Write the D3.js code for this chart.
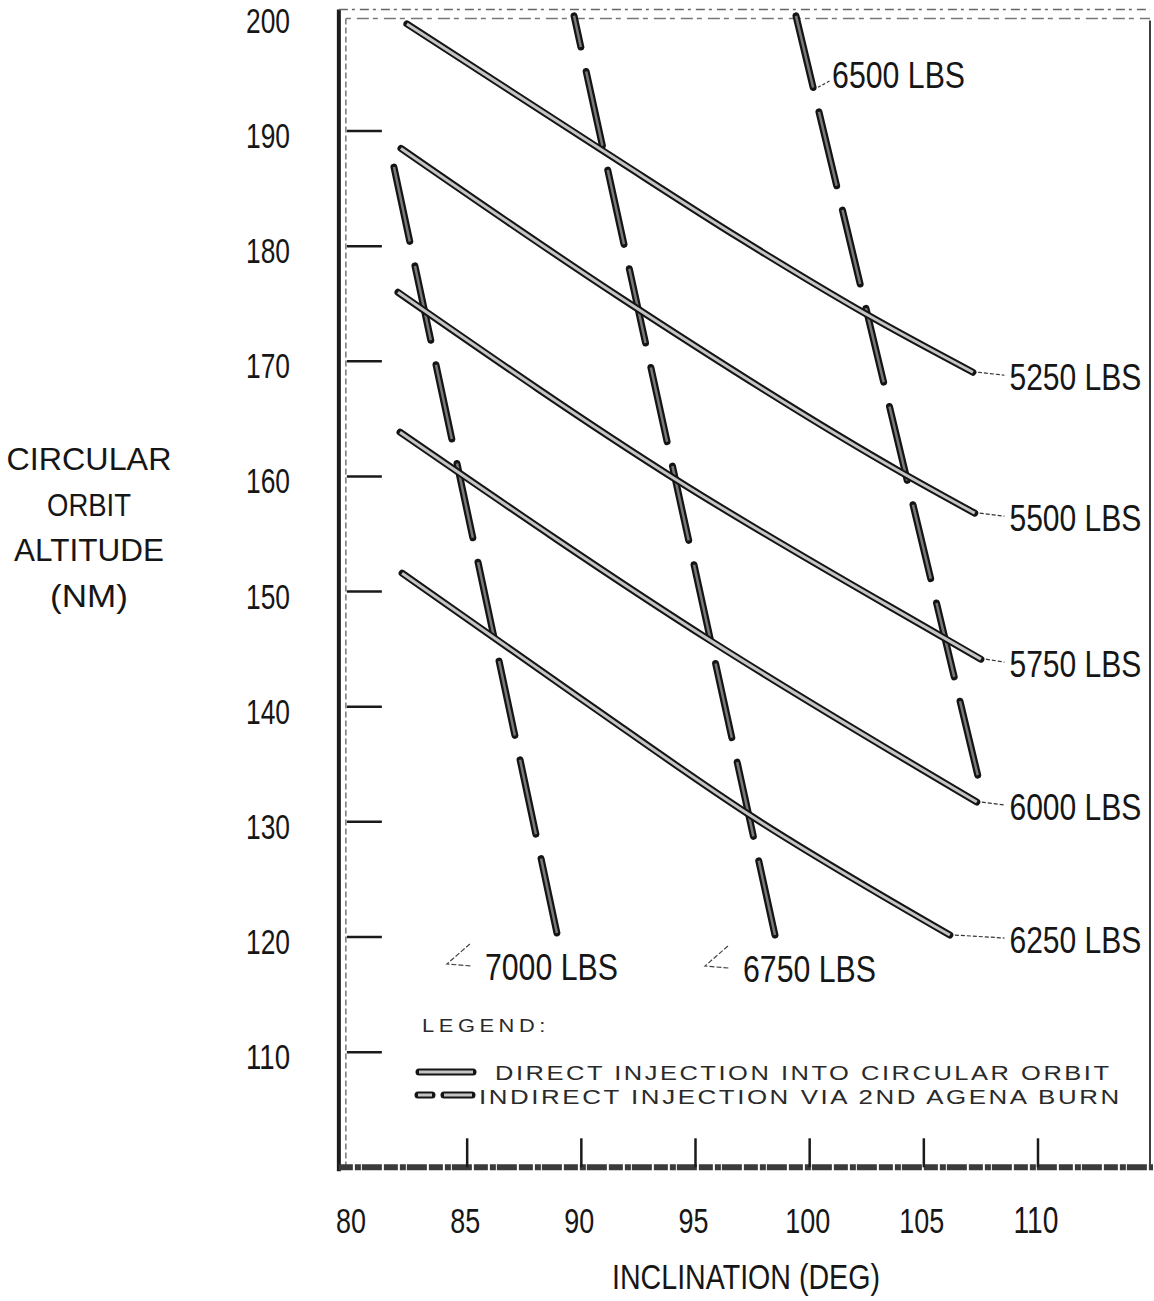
<!DOCTYPE html>
<html lang="en">
<head>
<meta charset="UTF-8">
<title>Circular Orbit Altitude vs Inclination</title>
<style>
    body { margin: 0; background: #fff; }
    svg { display: block; background: #fff; }
    text { font-family: "Liberation Sans", Arial, sans-serif; fill: #161616; }
    .tick-label { font-size: 36px; }
    .weight-label { font-size: 37px; }
    .axis-title { font-size: 32px; }
    .legend-text { font-size: 20px; fill: #2a2a2a; letter-spacing: 2px; }
</style>
</head>
<body>
<svg id="chart" width="1154" height="1301"></svg>
<script src="https://d3js.org/d3.v7.min.js"></script>
<script>
// direct injection into circular orbit: [inclination (deg), altitude (nm)]
const direct5250 = [[82.36, 199.3], [91.12, 188.06], [96.94, 180.68], [102.72, 173.82], [107.15, 169.05]];
const direct5500 = [[82.10, 188.49], [91.69, 175.56], [104.08, 160.28], [107.23, 156.81]];
const direct5750 = [[81.97, 175.99], [94.19, 159.67], [105.83, 146.04], [107.50, 144.13]];
const direct6000 = [[82.06, 163.84], [95.76, 145.61], [107.32, 131.72]];
const direct6250 = [[82.15, 151.60], [90.07, 140.57], [97.51, 130.42], [106.14, 120.17]];
const directLabels = ["5250 LBS", "5500 LBS", "5750 LBS", "6000 LBS", "6250 LBS"];

// indirect injection via 2nd agena burn (bottom end first)
const indirect6500 = [[107.36, 134.06], [99.40, 200.0]];
const indirect6750 = [[98.48, 120.17], [89.68, 200.0]];
const indirect7000 = [[88.93, 120.35], [81.75, 187.27]];
const indirectLabels = ["6500 LBS", "6750 LBS", "7000 LBS"];

const xTicks = [80, 85, 90, 95, 100, 105, 110];
const yTicks = [200, 190, 180, 170, 160, 150, 140, 130, 120, 110];
const yTitle = ["CIRCULAR", "ORBIT", "ALTITUDE", "(NM)"];
const xTitle = "INCLINATION (DEG)";
const legendTitle = "LEGEND:";
const legendItems = ["DIRECT INJECTION INTO CIRCULAR ORBIT", "INDIRECT INJECTION VIA 2ND AGENA BURN"];

const svg = d3.select("#chart");

const x = d3.scaleLinear().domain([80, 110]).range([353, 1038]);
const y = d3.scaleLinear().domain([120, 190]).range([937, 131]);

// squeeze (or stretch) a text horizontally to a given width
function squeeze(t, px, py, width) {
    const w = t.node().getComputedTextLength();
    t.attr("x", 0).attr("y", 0)
        .attr("transform", `translate(${px},${py}) scale(${width / w},1)`);
    return t;
}

// frame
const fLeft = x(79.6), fRight = 1150, fTop = y(200.3), fBottom = y(100);
const frame = svg.append("g");
frame.append("line").attr("x1", fLeft - 5).attr("x2", fLeft - 5).attr("y1", fTop - 3).attr("y2", fBottom + 4)
    .attr("stroke", "#1c1c1c").attr("stroke-width", 4);
frame.append("line").attr("x1", fLeft + 2).attr("x2", fLeft + 2).attr("y1", fTop + 6).attr("y2", fBottom)
    .attr("stroke", "#777").attr("stroke-width", 1.5).attr("stroke-dasharray", "6 3");
frame.append("line").attr("x1", fLeft - 5).attr("x2", fRight).attr("y1", fTop - 3).attr("y2", fTop - 3)
    .attr("stroke", "#666").attr("stroke-width", 1.5).attr("stroke-dasharray", "9 4 3 5");
frame.append("line").attr("x1", fLeft + 2).attr("x2", fRight).attr("y1", fTop + 6).attr("y2", fTop + 6)
    .attr("stroke", "#777").attr("stroke-width", 1.5).attr("stroke-dasharray", "5 6 12 4");
frame.append("line").attr("x1", fRight).attr("x2", fRight).attr("y1", fTop + 8).attr("y2", fBottom)
    .attr("stroke", "#2a2a2a").attr("stroke-width", 1.8);
frame.append("line").attr("x1", fLeft - 5).attr("x2", fRight + 3).attr("y1", fBottom).attr("y2", fBottom)
    .attr("stroke", "#3a3a3a").attr("stroke-width", 6).attr("stroke-dasharray", "14 2 6 1 20 2");

// inner ticks
svg.append("g").selectAll("line").data(yTicks.filter(d => d < 200)).join("line")
    .attr("x1", fLeft + 3).attr("x2", fLeft + 38)
    .attr("y1", d => y(d)).attr("y2", d => y(d))
    .attr("stroke", "#1a1a1a").attr("stroke-width", 2.5);
svg.append("g").selectAll("line").data(xTicks.filter(d => d > 80)).join("line")
    .attr("x1", d => x(d)).attr("x2", d => x(d))
    .attr("y1", fBottom - 29).attr("y2", fBottom)
    .attr("stroke", "#1a1a1a").attr("stroke-width", 2.5);

// tick labels
const yLabels = svg.append("g");
yTicks.forEach(v => {
    squeeze(yLabels.append("text").attr("class", "tick-label").text(v), 246, y(v) + 17, 44);
});
const xLabels = svg.append("g");
xTicks.forEach(v => {
    const w = String(v).length * 15;
    squeeze(xLabels.append("text").attr("class", "tick-label").text(v), x(v) - 2 - w / 2, 1233, w);
});

// axis titles
const yTitleWidths = [165, 84, 150, 78];
yTitle.forEach((t, i) => {
    squeeze(svg.append("text").attr("class", "axis-title").text(t),
        89 - yTitleWidths[i] / 2, 470 + i * 45.5, yTitleWidths[i]);
});
squeeze(svg.append("text").attr("class", "axis-title").style("font-size", "35px").text(xTitle), 612, 1289, 268);

// tube style lines
function tube(g, d, dashed) {
    g.append("path").attr("d", d).attr("fill", "none")
        .attr("stroke", "#141414").attr("stroke-width", 7).attr("stroke-linecap", "round")
        .attr("stroke-dasharray", dashed ? "76 25" : null);
    g.append("path").attr("d", d).attr("fill", "none")
        .attr("stroke", dashed ? "#7a7a7a" : "#c4c4c4").attr("stroke-width", dashed ? 2.5 : 3)
        .attr("stroke-dasharray", dashed ? "76 25" : null);
}

const straight = d3.line().x(d => x(d[0])).y(d => y(d[1]));
const smooth = d3.line().x(d => x(d[0])).y(d => y(d[1])).curve(d3.curveMonotoneX);

const plot = svg.append("g");
const indirect = [indirect6500, indirect6750, indirect7000];
indirect.forEach(s => tube(plot.append("g"), straight(s), true));
const direct = [direct5250, direct5500, direct5750, direct6000, direct6250];
direct.forEach(s => tube(plot.append("g"), smooth(s), false));

// labels for direct curves, in a column right of the line ends
const labelX = x(108.75);
direct.forEach((s, i) => {
    const end = s[s.length - 1];
    const ex = x(end[0]), ey = y(end[1]);
    svg.append("line").attr("x1", ex + 5).attr("y1", ey).attr("x2", labelX - 5).attr("y2", ey + 3)
        .attr("stroke", "#333").attr("stroke-width", 1.2).attr("stroke-dasharray", "4 2");
    squeeze(svg.append("text").attr("class", "weight-label").text(directLabels[i]), labelX, ey + 18, 132);
});

// 6500 label near the top of its line
const p6500 = [x(99.4) + (x(107.36) - x(99.4)) * (y(193.8) - y(200)) / (y(134.06) - y(200)), y(193.8)];
svg.append("line").attr("x1", p6500[0] + 5).attr("y1", p6500[1]).attr("x2", p6500[0] + 18).attr("y2", p6500[1] - 7)
    .attr("stroke", "#333").attr("stroke-width", 1.2).attr("stroke-dasharray", "3 2");
squeeze(svg.append("text").attr("class", "weight-label").text(indirectLabels[0]), p6500[0] + 19, p6500[1] + 1, 133);

// 6750 and 7000 labels below the line ends
const bottomLabelShift = [-32, -72];
[indirect6750, indirect7000].forEach((s, i) => {
    const tx = x(s[0][0]) + bottomLabelShift[i];
    const ty = y(s[0][1]) + 47;
    svg.append("path")
        .attr("d", `M${tx - 15},${ty - 36} L${tx - 38},${ty - 16} L${tx - 14},${ty - 14}`)
        .attr("fill", "none").attr("stroke", "#444").attr("stroke-width", 1.2).attr("stroke-dasharray", "5 2");
    squeeze(svg.append("text").attr("class", "weight-label").text(indirectLabels[i + 1]), tx, ty, 133);
});

// legend
const legend = svg.append("g");
squeeze(legend.append("text").attr("class", "legend-text")
    .style("font-size", "19px").style("letter-spacing", "4px")
    .text(legendTitle), 422, 1032, 128);
tube(legend.append("g"), "M419,1072 L473,1072", false);
tube(legend.append("g"), "M418,1095 L432,1095", false);
tube(legend.append("g"), "M444,1095 L472,1095", false);
const legendWidths = [617, 643];
legendItems.forEach((t, i) => {
    squeeze(legend.append("text").attr("class", "legend-text").text(t),
        i === 0 ? 495 : 479, 1080 + i * 23.5, legendWidths[i]);
});
</script>
</body>
</html>
